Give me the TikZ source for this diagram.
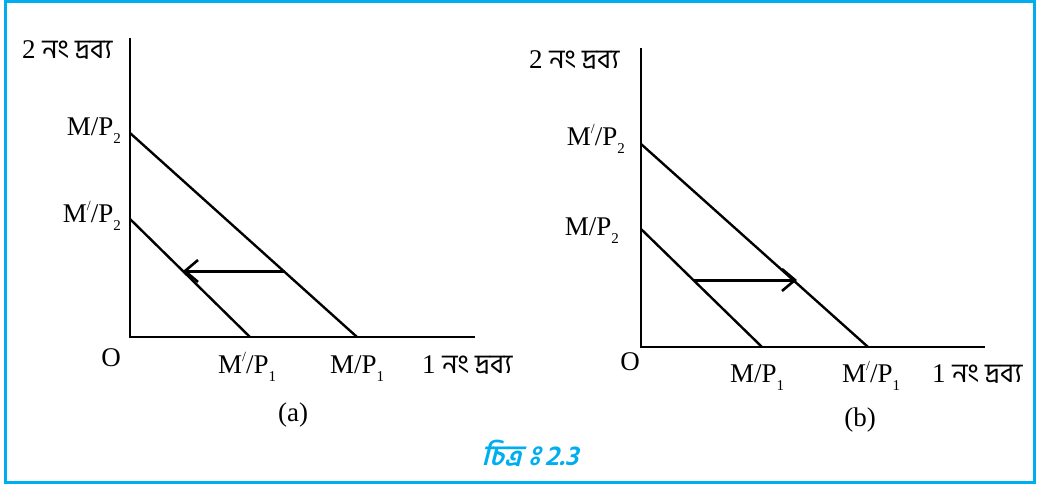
\documentclass[tikz,border=0pt]{standalone}
\usepackage{fontspec}
\setmainfont{Liberation Serif}
\newfontfamily\bn[Script=Bengali]{Hind Siliguri}
\newfontfamily\bncap[Script=Bengali,FakeSlant=0.25]{Hind Siliguri}
\usetikzlibrary{arrows.meta}
\definecolor{framecyan}{RGB}{0,174,239}
\newcommand{\subs}[1]{\raisebox{-0.32em}{\fontsize{15}{15}\selectfont #1}}
\newcommand{\prm}{\raisebox{0.42em}{\fontsize{14}{14}\selectfont /}}
\newcommand{\visarga}{\XeTeXglyph\the\XeTeXcharglyph"0983\relax}
\begin{document}
\begin{tikzpicture}[x=1pt,y=-1pt,
  txt/.style={inner sep=0pt, font=\fontsize{27}{30}\selectfont},
  bntxt/.style={inner sep=0pt, font=\fontsize{27}{30}\selectfont},
  axisline/.style={line width=2.8pt, line join=miter},
  budget/.style={line width=2.4pt},
  shiftarrow/.style={line width=3pt, -{Straight Barb[length=13pt,width=22pt,line width=2.6pt]}}]
\useasboundingbox (0,0) rectangle (1038,485);
\draw[framecyan, line width=3pt] (5.3,1.5) rectangle (1034.2,482.5);

% ---------- panel (a)
\coordinate (aT) at (130,38);
\coordinate (aO) at (130,337);
\coordinate (aE) at (475,337);
\coordinate (aA) at (130,133);
\coordinate (aB) at (357,337);
\coordinate (aC) at (130,219);
\coordinate (aD) at (250,337);
\coordinate (aS) at (285,271);
\coordinate (aF) at (183,271);
\draw[axisline] (aT) |- (aE);
\draw[budget] (aA) -- (aB);
\draw[budget] (aC) -- (aD);
\draw[shiftarrow] (aS) -- (aF);

\node[bntxt, anchor=base west] (aylab) at (22,58) {2 {\bn নং দ্রব্য}};
\node[txt, anchor=base east] (aMP2) at (121,135) {M/P\subs{2}};
\node[txt, anchor=base east] (aMpP2) at (121,222) {M\prm/P\subs{2}};
\node[txt, anchor=base] (aOl) at (111,366) {O};
\node[txt, anchor=base west] (aMpP1) at (218,373) {M\prm/P\subs{1}};
\node[txt, anchor=base west] (aMP1) at (330,373) {M/P\subs{1}};
\node[bntxt, anchor=base west] (axlab) at (422,373) {1 {\bn নং দ্রব্য}};
\node[txt] (acap) at (293,415) {(a)};

% ---------- panel (b)
\coordinate (bT) at (641,48);
\coordinate (bO) at (641,347);
\coordinate (bE) at (985,347);
\coordinate (bA) at (641,144);
\coordinate (bB) at (868,347);
\coordinate (bC) at (641,229);
\coordinate (bD) at (762,347);
\coordinate (bS) at (694,280);
\coordinate (bF) at (797,280);
\draw[axisline] (bT) |- (bE);
\draw[budget] (bA) -- (bB);
\draw[budget] (bC) -- (bD);
\draw[shiftarrow] (bS) -- (bF);

\node[bntxt, anchor=base west] (bylab) at (529,68) {2 {\bn নং দ্রব্য}};
\node[txt, anchor=base east] (bMpP2) at (625,145) {M\prm/P\subs{2}};
\node[txt, anchor=base east] (bMP2) at (619,235) {M/P\subs{2}};
\node[txt, anchor=base] (bOl) at (630,370) {O};
\node[txt, anchor=base west] (bMP1) at (730,382) {M/P\subs{1}};
\node[txt, anchor=base west] (bMpP1) at (842,382) {M\prm/P\subs{1}};
\node[bntxt, anchor=base west] (bxlab) at (932,382) {1 {\bn নং দ্রব্য}};
\node[txt] (bcap) at (860,420) {(b)};

% ---------- caption
\node[inner sep=0pt, text=framecyan, font=\fontsize{28}{30}\selectfont\bncap\bfseries] (fig) at (530,453) {চিত্র \visarga\,2.3};
\end{tikzpicture}
\end{document}
